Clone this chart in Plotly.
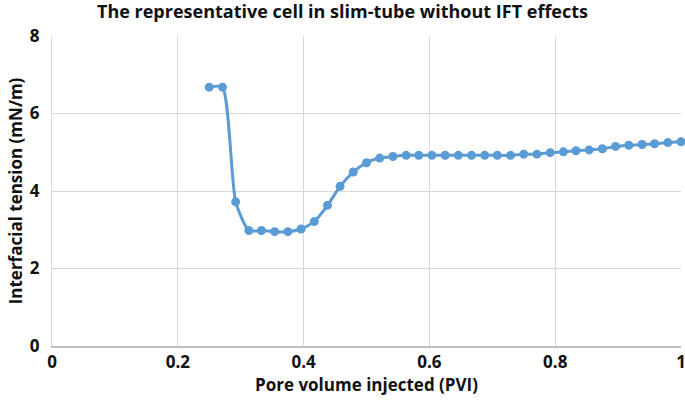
import plotly.graph_objects as go

pvi = [0.250, 0.271, 0.292, 0.313, 0.333, 0.354, 0.375, 0.396, 0.417, 0.438,
       0.458, 0.479, 0.500, 0.521, 0.542, 0.563, 0.583, 0.604, 0.625, 0.646,
       0.667, 0.688, 0.708, 0.729, 0.750, 0.771, 0.792, 0.813, 0.833, 0.854,
       0.875, 0.896, 0.917, 0.938, 0.958, 0.979, 1.000]
ift = [6.68, 6.68, 3.72, 2.98, 2.98, 2.95, 2.95, 3.02, 3.21, 3.63,
       4.12, 4.49, 4.73, 4.85, 4.89, 4.92, 4.92, 4.92, 4.92, 4.92,
       4.92, 4.92, 4.92, 4.92, 4.95, 4.95, 4.99, 5.01, 5.04, 5.06,
       5.09, 5.15, 5.18, 5.20, 5.22, 5.25, 5.27]

x_ticks = [0, 0.2, 0.4, 0.6, 0.8, 1]
x_tick_text = ["0", "0.2", "0.4", "0.6", "0.8", "1"]
y_ticks = [0, 2, 4, 6, 8]

title_text = "The representative cell in slim-tube without IFT effects"
x_title = "Pore volume injected (PVI)"
y_title = "Interfacial tension (mN/m)"

color = "#5B9BD5"
font_family = "Open Sans"
text_color = "#111111"

fig = go.Figure()
fig.add_trace(go.Scatter(
    x=pvi, y=ift, mode="lines+markers",
    line=dict(color=color, width=3, shape="spline", smoothing=0.6),
    marker=dict(color=color, size=9),
    showlegend=False,
    cliponaxis=False,
))

fig.update_layout(
    width=685, height=401,
    margin=dict(l=52, r=4, t=36, b=55),
    paper_bgcolor="white", plot_bgcolor="white",
    title=dict(text=title_text, x=0.5, xanchor="center", y=0.97, yanchor="middle",
               font=dict(family=font_family, size=18, color=text_color, weight="bold")),
    xaxis=dict(range=[0, 1], tickvals=x_ticks, ticktext=x_tick_text,
               showgrid=True, gridcolor="#D9D9D9", gridwidth=1,
               showline=True, linecolor="#BFBFBF", linewidth=2,
               zeroline=False, ticks="", automargin=False,
               ticklabeloverflow="allow",
               tickfont=dict(family=font_family, size=17, color=text_color, weight="bold"),
               title=dict(text=x_title, standoff=6,
                          font=dict(family=font_family, size=17, color=text_color, weight="bold"))),
    yaxis=dict(range=[0, 8], tickvals=y_ticks,
               showgrid=True, gridcolor="#D9D9D9", gridwidth=1,
               showline=True, linecolor="#D9D9D9", linewidth=1,
               zeroline=False, ticks="", automargin=False,
               ticklabelstandoff=8,
               tickfont=dict(family=font_family, size=17, color=text_color, weight="bold"),
               title=dict(text=y_title, standoff=2,
                          font=dict(family=font_family, size=17, color=text_color, weight="bold"))),
)

fig.write_html("out.html", config={"displayModeBar": False},
               post_script="document.body.style.margin='0';")
